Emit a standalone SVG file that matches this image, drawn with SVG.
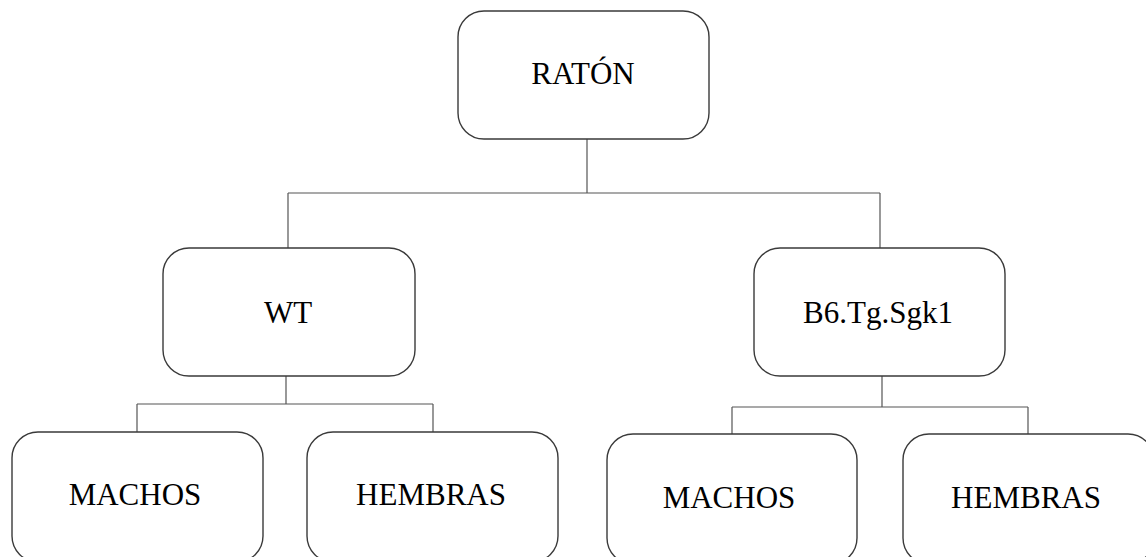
<svg xmlns="http://www.w3.org/2000/svg" width="1146" height="557" viewBox="0 0 1146 557">
<style>
.box{fill:#fff;stroke:#3a3a3a;stroke-width:1.4}
.lbl{font-family:"Liberation Serif","Times New Roman",serif;font-size:31px;fill:#000;text-anchor:middle}
.con{fill:none;stroke:#555;stroke-width:1.2}
</style>
<rect width="1146" height="557" fill="#fff"/>
<g id="connectors">
<path class="con" d="M587 139V193M288 193H880M288 193V248M880 193V248"/>
<path class="con" d="M286 376V404M137 404H433M137 404V432M433 404V432"/>
<path class="con" d="M882 376V407M732 407H1028M732 407V434M1028 407V434"/>
</g>
<g id="raton"><rect class="box" x="458" y="11" width="251" height="128" rx="26"/><text class="lbl" x="583" y="84">RATÓN</text></g>
<g id="wt"><rect class="box" x="163" y="248" width="252" height="128" rx="26"/><text class="lbl" x="288" y="323">WT</text></g>
<g id="b6"><rect class="box" x="754" y="248" width="251" height="128" rx="26"/><text class="lbl" x="878" y="323">B6.Tg.Sgk1</text></g>
<g id="machos1"><rect class="box" x="12" y="432" width="251" height="130" rx="26"/><text class="lbl" x="135" y="505">MACHOS</text></g>
<g id="hembras1"><rect class="box" x="307" y="432" width="251" height="130" rx="26"/><text class="lbl" x="431" y="505">HEMBRAS</text></g>
<g id="machos2"><rect class="box" x="607" y="434" width="250" height="130" rx="26"/><text class="lbl" x="729" y="508">MACHOS</text></g>
<g id="hembras2"><rect class="box" x="903" y="434" width="251" height="130" rx="26"/><text class="lbl" x="1026" y="508">HEMBRAS</text></g>
</svg>
